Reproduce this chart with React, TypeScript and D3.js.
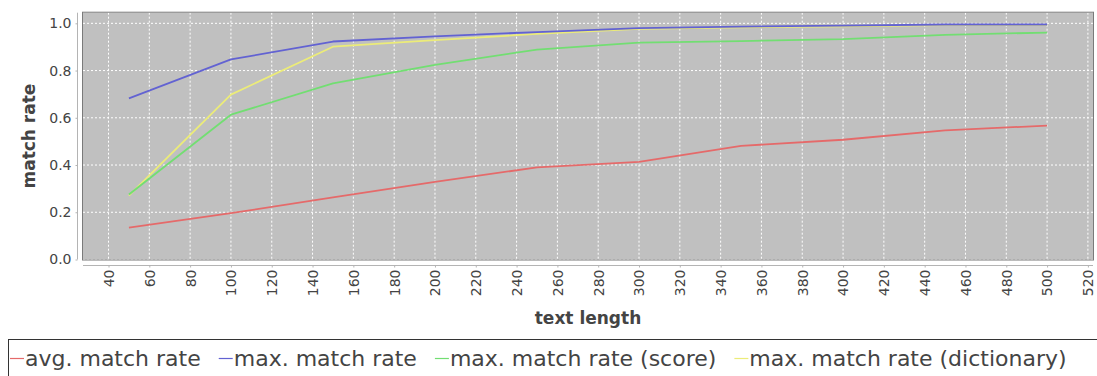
import React, { useEffect, useRef } from "react";
import * as d3 from "d3";

// text length (x) and match rates of the four series
const textLength = [50, 100, 150, 200, 250, 300, 350, 400, 450, 500];
const avgMatchRate = [0.135, 0.196, 0.263, 0.329, 0.39, 0.413, 0.481, 0.507, 0.547, 0.567];
const maxMatchRate = [0.682, 0.847, 0.923, 0.945, 0.963, 0.98, 0.986, 0.99, 0.995, 0.995];
const maxMatchRateScore = [0.275, 0.613, 0.746, 0.824, 0.889, 0.918, 0.925, 0.933, 0.951, 0.961];
const maxMatchRateDictionary = [0.27, 0.698, 0.901, 0.929, 0.955, 0.977, 0.983, 0.987, 0.992, 0.992];

const seriesNames = [
  "avg. match rate",
  "max. match rate",
  "max. match rate (score)",
  "max. match rate (dictionary)",
];
const seriesValues = [avgMatchRate, maxMatchRate, maxMatchRateScore, maxMatchRateDictionary];
const seriesColors = ["#e56a6a", "#6262d2", "#72de72", "#ecec78"];

const xTicks = d3.range(40, 521, 20);
const yTicks = [0, 0.2, 0.4, 0.6, 0.8, 1.0];

const App = () => {
  const svgRef = useRef(null);
  const width = 1097;
  const height = 376;
  const plotLeft = 83;
  const plotRight = 1093;
  const plotTop = 12.7;
  const plotBottom = 259.5;
  const font = "DejaVu Sans, Verdana, sans-serif";

  useEffect(() => {
    const svg = d3.select(svgRef.current);
    svg.selectAll("*").remove();

    const x = d3.scaleLinear().domain([27.5, 522.5]).range([plotLeft, plotRight]);
    const y = d3.scaleLinear().domain([0, 1.045]).range([plotBottom, plotTop]);

    svg.append("rect").attr("width", width).attr("height", height).attr("fill", "#ffffff");

    // plot background
    svg
      .append("rect")
      .attr("x", plotLeft)
      .attr("y", plotTop)
      .attr("width", plotRight - plotLeft)
      .attr("height", plotBottom - plotTop)
      .attr("fill", "#c0c0c0");

    // grid lines
    const grid = svg.append("g").attr("stroke", "#ffffff").attr("stroke-dasharray", "2,2").attr("stroke-width", 1);
    grid
      .selectAll("line.v")
      .data(xTicks)
      .join("line")
      .attr("x1", d => x(d))
      .attr("x2", d => x(d))
      .attr("y1", plotTop)
      .attr("y2", plotBottom);
    grid
      .selectAll("line.h")
      .data(yTicks)
      .join("line")
      .attr("x1", plotLeft)
      .attr("x2", plotRight)
      .attr("y1", d => y(d))
      .attr("y2", d => y(d));

    // series, last one drawn first
    const line = d3
      .line<number>()
      .x((d, i) => x(textLength[i]))
      .y(d => y(d));
    [3, 2, 1, 0].forEach(s => {
      svg
        .append("path")
        .datum(seriesValues[s])
        .attr("fill", "none")
        .attr("stroke", seriesColors[s])
        .attr("stroke-width", 1.8)
        .attr("stroke-linejoin", "round")
        .attr("d", line);
    });

    // plot outline
    svg
      .append("rect")
      .attr("x", plotLeft - 0.5)
      .attr("y", plotTop - 0.5)
      .attr("width", plotRight - plotLeft + 1)
      .attr("height", plotBottom - plotTop + 1)
      .attr("fill", "none")
      .attr("stroke", "#7a7a7a")
      .attr("stroke-width", 1);

    // y axis
    const yAxis = svg
      .append("g")
      .attr("transform", "translate(77.5,0)")
      .call(d3.axisLeft(y).tickValues(yTicks).tickFormat(d3.format(".1f")).tickSize(2).tickPadding(4).tickSizeOuter(0))
      .call(g => g.select(".domain").attr("stroke", "#b4b4b4"))
      .call(g => g.selectAll(".tick line").attr("stroke", "#b4b4b4"))
      .call(g =>
        g
          .selectAll(".tick text")
          .attr("fill", "#444444")
          .attr("font-family", font)
          .attr("font-size", 14)
      );
    yAxis.select(".domain").attr("d", `M0,${plotTop}V${plotBottom}`);

    // x axis
    const xAxis = svg
      .append("g")
      .attr("transform", "translate(0,265.5)")
      .call(d3.axisBottom(x).tickValues(xTicks).tickSize(2).tickSizeOuter(0))
      .call(g => g.select(".domain").attr("stroke", "#b4b4b4"))
      .call(g => g.selectAll(".tick line").attr("stroke", "#b4b4b4"))
      .call(g =>
        g
          .selectAll(".tick text")
          .attr("fill", "#444444")
          .attr("font-family", font)
          .attr("font-size", 14)
          .attr("text-anchor", "end")
          .attr("dy", "0.35em")
          .attr("x", -4)
          .attr("y", 0)
          .attr("transform", "rotate(-90)"),
      );
    xAxis.select(".domain").attr("d", `M${plotLeft},0H${plotRight}`);

    // axis titles
    svg
      .append("text")
      .attr("transform", `translate(29,${(plotTop + plotBottom) / 2}) rotate(-90)`)
      .attr("text-anchor", "middle")
      .attr("dominant-baseline", "central")
      .attr("font-family", font)
      .attr("font-weight", "bold")
      .attr("font-size", 17)
      .attr("fill", "#444444")
      .text("match rate");
    svg
      .append("text")
      .attr("x", (plotLeft + plotRight) / 2)
      .attr("y", 318)
      .attr("text-anchor", "middle")
      .attr("dominant-baseline", "central")
      .attr("font-family", font)
      .attr("font-weight", "bold")
      .attr("font-size", 17)
      .attr("fill", "#444444")
      .text("text length");

    // legend
    svg
      .append("rect")
      .attr("x", 8.5)
      .attr("y", 339.5)
      .attr("width", 1095)
      .attr("height", 40)
      .attr("fill", "#ffffff")
      .attr("stroke", "#333333")
      .attr("stroke-width", 1);
    let lx = 10;
    seriesNames.forEach((name, i) => {
      svg
        .append("line")
        .attr("x1", lx)
        .attr("x2", lx + 14)
        .attr("y1", 358.5)
        .attr("y2", 358.5)
        .attr("stroke", seriesColors[i])
        .attr("stroke-width", 1.2);
      const t = svg
        .append("text")
        .attr("x", lx + 15)
        .attr("y", 366)
        .attr("font-family", font)
        .attr("font-size", 22)
        .attr("fill", "#444444")
        .text(name);
      const w = (t.node() as SVGTextElement).getComputedTextLength();
      lx += 15 + w + 18;
    });
  }, []);

  return (
    <svg
      ref={svgRef}
      width={width}
      height={height}
      style={{ position: "absolute", left: 0, top: 0, display: "block" }}
    />
  );
};

export default App;
